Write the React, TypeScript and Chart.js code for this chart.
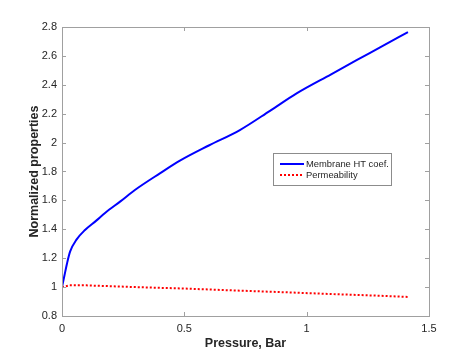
import React, { useEffect, useRef } from "react";
import { Chart, registerables } from "chart.js";

Chart.register(...registerables);

const htX = [0, 0.01, 0.02, 0.033, 0.06, 0.094, 0.14, 0.176, 0.24, 0.298, 0.4, 0.482, 0.6, 0.727, 0.85, 0.959, 1.1, 1.204, 1.3, 1.414];
const htY = [1.0, 1.08, 1.16, 1.245, 1.33, 1.395, 1.46, 1.513, 1.595, 1.672, 1.787, 1.875, 1.98, 2.087, 2.22, 2.341, 2.473, 2.57, 2.659, 2.765];
const permX = [0, 0.03, 0.1, 0.3, 0.5, 0.7, 0.9, 1.1, 1.3, 1.414];
const permY = [1.0, 1.012, 1.012, 1.0, 0.99, 0.977, 0.965, 0.952, 0.94, 0.932];
const xTicks = [0, 0.5, 1, 1.5];
const yTicks = [0.8, 1, 1.2, 1.4, 1.6, 1.8, 2, 2.2, 2.4, 2.6, 2.8];
const seriesLabels = ["Membrane HT coef.", "Permeability"];

const FONT = "'Liberation Sans', Arial, sans-serif";
const AXIS_COLOR = "#a0a0a0";
const TEXT_COLOR = "#262626";

const boxPlugin = {
  id: "boxTicks",
  afterDraw(chart: any) {
    const { ctx, chartArea: a, scales } = chart;
    ctx.save();
    ctx.strokeStyle = AXIS_COLOR;
    ctx.lineWidth = 1;
    ctx.strokeRect(Math.round(a.left) + 0.5, Math.round(a.top) + 0.5, Math.round(a.right - a.left), Math.round(a.bottom - a.top));
    const tl = 4;
    ctx.beginPath();
    for (const v of xTicks) {
      const px = Math.round(scales.x.getPixelForValue(v)) + 0.5;
      ctx.moveTo(px, a.bottom);
      ctx.lineTo(px, a.bottom - tl);
      ctx.moveTo(px, a.top);
      ctx.lineTo(px, a.top + tl);
    }
    for (const v of yTicks) {
      const py = Math.round(scales.y.getPixelForValue(v)) + 0.5;
      ctx.moveTo(a.left, py);
      ctx.lineTo(a.left + tl, py);
      ctx.moveTo(a.right, py);
      ctx.lineTo(a.right - tl, py);
    }
    ctx.stroke();

    // legend
    const lx = 273.5, ly = 153.5, lw = 118, lh = 32;
    ctx.fillStyle = "#ffffff";
    ctx.fillRect(lx, ly, lw, lh);
    ctx.strokeStyle = "#8c8c8c";
    ctx.strokeRect(lx, ly, lw, lh);
    const ds = chart.data.datasets;
    const rows = [164, 175];
    ctx.font = `9.4px ${FONT}`;
    ctx.textBaseline = "middle";
    ctx.textAlign = "left";
    ds.forEach((d: any, i: number) => {
      ctx.beginPath();
      ctx.strokeStyle = d.borderColor;
      ctx.lineWidth = 2;
      ctx.setLineDash(d.borderDash || []);
      ctx.moveTo(280, rows[i]);
      ctx.lineTo(304, rows[i]);
      ctx.stroke();
      ctx.setLineDash([]);
      ctx.fillStyle = TEXT_COLOR;
      ctx.fillText(d.label, 306, rows[i] + 0.5);
    });
    ctx.restore();
  },
};

export default function App() {
  const ref = useRef<HTMLCanvasElement>(null);
  useEffect(() => {
    document.body.style.margin = "0";
    const chart = new Chart(ref.current!, {
      type: "line",
      data: {
        datasets: [
          {
            label: seriesLabels[0],
            data: htX.map((x, i) => ({ x, y: htY[i] })),
            borderColor: "#0000ff",
            borderWidth: 2,
            pointRadius: 0,
            cubicInterpolationMode: "monotone",
            fill: false,
          },
          {
            label: seriesLabels[1],
            data: permX.map((x, i) => ({ x, y: permY[i] })),
            borderColor: "#ff0000",
            borderWidth: 2,
            borderDash: [2, 2],
            pointRadius: 0,
            tension: 0,
            fill: false,
          },
        ],
      },
      options: {
        responsive: false,
        animation: false,
        layout: { padding: { left: 0, right: 45, top: 27, bottom: 0 } },
        plugins: { legend: { display: false }, tooltip: { enabled: false } },
        scales: {
          x: {
            type: "linear",
            min: 0,
            max: 1.5,
            afterBuildTicks: (s: any) => { s.ticks = xTicks.map((v) => ({ value: v })); },
            afterFit: (s: any) => { s.height = 39; },
            grid: { display: false, drawTicks: false },
            border: { display: false },
            ticks: {
              color: TEXT_COLOR,
              font: { family: FONT, size: 11 },
              padding: 6,
              maxRotation: 0,
              callback: (v: any) => String(v),
            },
            title: {
              display: true,
              text: "Pressure, Bar",
              color: TEXT_COLOR,
              font: { family: FONT, size: 12.5, weight: "bold" },
              padding: { top: 0, bottom: 4 },
            },
          },
          y: {
            type: "linear",
            min: 0.8,
            max: 2.8,
            afterBuildTicks: (s: any) => { s.ticks = yTicks.map((v) => ({ value: v })); },
            afterFit: (s: any) => { s.width = 62; },
            grid: { display: false, drawTicks: false },
            border: { display: false },
            ticks: {
              color: TEXT_COLOR,
              font: { family: FONT, size: 11 },
              padding: 5,
              callback: (v: any) => String(Math.round(v * 10) / 10),
            },
            title: {
              display: true,
              text: "Normalized properties",
              color: TEXT_COLOR,
              font: { family: FONT, size: 12.5, weight: "bold" },
              padding: { top: 27, bottom: 0 },
            },
          },
        },
      },
      plugins: [boxPlugin],
    } as any);
    return () => chart.destroy();
  }, []);
  return (
    <div style={{ position: "absolute", left: 0, top: 0, width: 474, height: 355 }}>
      <canvas ref={ref} width={474} height={355} style={{ width: 474, height: 355 }} />
    </div>
  );
}
